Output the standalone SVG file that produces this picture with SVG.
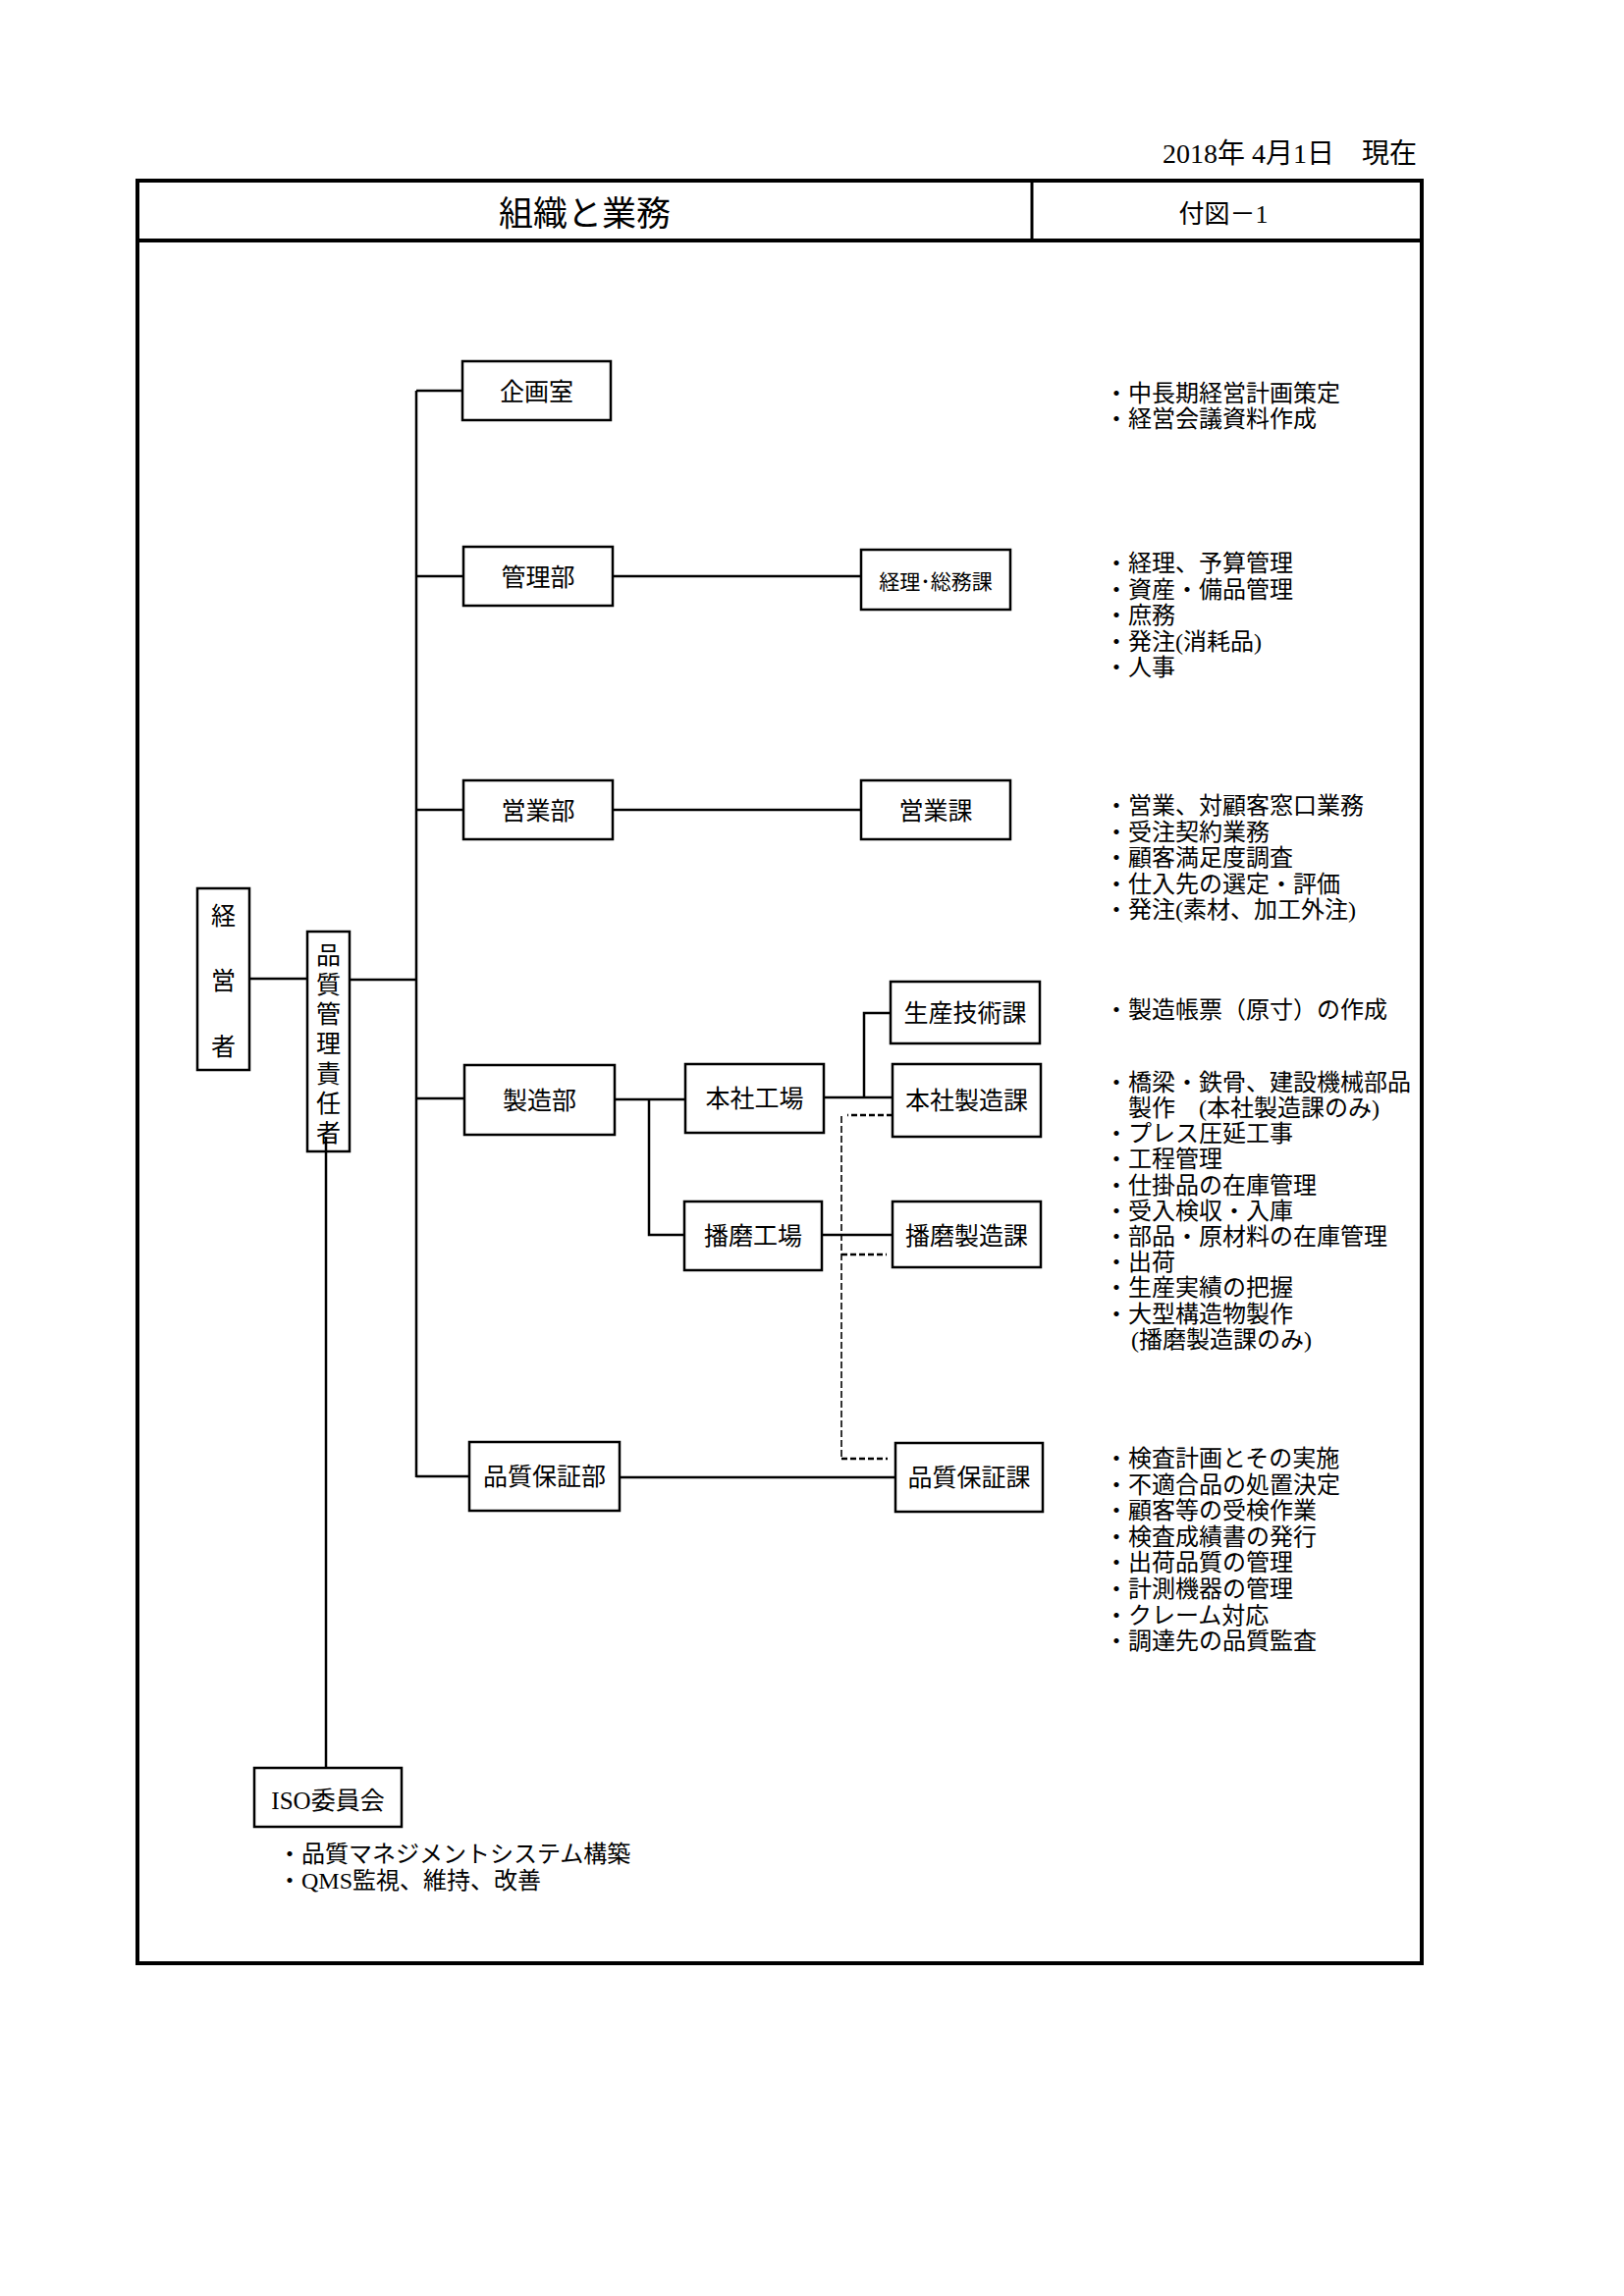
<svg xmlns="http://www.w3.org/2000/svg" width="1654" height="2339" viewBox="0 0 1654 2339">
<style>
text { font-family: "Liberation Serif", "Noto Sans CJK JP", serif; fill: #000; }
.box { fill: #fff; stroke: #000; stroke-width: 2.5; }
.ln { fill: none; stroke: #000; stroke-width: 2.5; }
.dash { fill: none; stroke: #000; stroke-width: 2.5; stroke-dasharray: 6 3; }
.dashv { fill: none; stroke: #000; stroke-width: 1.6; stroke-dasharray: 7 3; }
.lbl { font-size: 25px; text-anchor: middle; }
.li { font-size: 24px; }
</style>
<rect width="1654" height="2339" fill="#fff"/>

<g id="header">
  <text x="1443" y="166" font-size="28" text-anchor="end">2018年 4月1日　現在</text>
  <rect x="140" y="184" width="1308" height="1816" fill="none" stroke="#000" stroke-width="4"/>
  <line x1="140" y1="245" x2="1448" y2="245" stroke="#000" stroke-width="4"/>
  <line x1="1051" y1="184" x2="1051" y2="245" stroke="#000" stroke-width="3"/>
  <text x="595.5" y="230" font-size="35" text-anchor="middle">組織と業務</text>
  <text x="1246" y="226.5" font-size="26" text-anchor="middle">付図－1</text>
</g>

<g id="connectors">
  <line class="ln" x1="254" y1="997" x2="313" y2="997"/>
  <line class="ln" x1="356" y1="998" x2="424" y2="998"/>
  <line class="ln" x1="332" y1="1158" x2="332" y2="1801"/>
  <line class="ln" x1="424" y1="398" x2="424" y2="1505"/>
  <line class="ln" x1="424" y1="398" x2="471" y2="398"/>
  <line class="ln" x1="424" y1="587" x2="472" y2="587"/>
  <line class="ln" x1="624" y1="587" x2="877" y2="587"/>
  <line class="ln" x1="424" y1="825" x2="472" y2="825"/>
  <line class="ln" x1="624" y1="825" x2="877" y2="825"/>
  <line class="ln" x1="424" y1="1119" x2="473" y2="1119"/>
  <line class="ln" x1="626" y1="1120" x2="698" y2="1120"/>
  <polyline class="ln" points="661,1120 661,1258 697,1258"/>
  <line class="ln" x1="839" y1="1118" x2="909" y2="1118"/>
  <polyline class="ln" points="880,1118 880,1032 907,1032"/>
  <line class="ln" x1="837" y1="1258" x2="909" y2="1258"/>
  <line class="ln" x1="424" y1="1504" x2="478" y2="1504"/>
  <line class="ln" x1="631" y1="1505" x2="912" y2="1505"/>
  <line class="dash" x1="909" y1="1136" x2="863" y2="1136"/>
  <line class="dashv" x1="857" y1="1137" x2="857" y2="1486"/>
  <line class="dash" x1="857" y1="1278" x2="903" y2="1278"/>
  <line class="dash" x1="857" y1="1486" x2="904" y2="1486"/>
</g>

<g id="keieisha">
  <rect class="box" x="201" y="905" width="53" height="185"/>
  <text class="lbl" x="227.5" y="941.5">経</text>
  <text class="lbl" x="227.5" y="1007.5">営</text>
  <text class="lbl" x="227.5" y="1074.5">者</text>
</g>

<g id="hinshitsu-sekininsha">
  <rect class="box" x="313" y="949" width="43" height="224"/>
  <text class="lbl" x="334.5" y="981.5">品</text>
  <text class="lbl" x="334.5" y="1011.5">質</text>
  <text class="lbl" x="334.5" y="1041.5">管</text>
  <text class="lbl" x="334.5" y="1071.5">理</text>
  <text class="lbl" x="334.5" y="1102.5">責</text>
  <text class="lbl" x="334.5" y="1132.5">任</text>
  <text class="lbl" x="334.5" y="1162.5">者</text>
  <line class="ln" x1="332" y1="1158" x2="332" y2="1173"/>
</g>

<g id="kikakushitsu">
  <rect class="box" x="471" y="368" width="151" height="60"/>
  <text class="lbl" x="546.5" y="407.5">企画室</text>
</g>
<g id="kanribu">
  <rect class="box" x="472" y="557" width="152" height="60"/>
  <text class="lbl" x="548" y="596.5">管理部</text>
</g>
<g id="keiri-somuka">
  <rect class="box" x="877" y="560" width="152" height="61"/>
  <text x="953" y="600" font-size="21" text-anchor="middle">経理･総務課</text>
</g>
<g id="eigyobu">
  <rect class="box" x="472" y="795" width="152" height="60"/>
  <text class="lbl" x="548" y="834.5">営業部</text>
</g>
<g id="eigyoka">
  <rect class="box" x="877" y="795" width="152" height="60"/>
  <text class="lbl" x="953" y="834.5">営業課</text>
</g>
<g id="seizobu">
  <rect class="box" x="473" y="1085" width="153" height="71"/>
  <text class="lbl" x="549.5" y="1129.5">製造部</text>
</g>
<g id="honsha-kojo">
  <rect class="box" x="698" y="1084" width="141" height="70"/>
  <text class="lbl" x="768.5" y="1127.5">本社工場</text>
</g>
<g id="harima-kojo">
  <rect class="box" x="697" y="1224" width="140" height="70"/>
  <text class="lbl" x="767" y="1267.5">播磨工場</text>
</g>
<g id="seisan-gijutsuka">
  <rect class="box" x="907" y="1000" width="152" height="63"/>
  <text class="lbl" x="983" y="1041">生産技術課</text>
</g>
<g id="honsha-seizoka">
  <rect class="box" x="909" y="1084" width="151" height="74"/>
  <text class="lbl" x="984.5" y="1129.5">本社製造課</text>
</g>
<g id="harima-seizoka">
  <rect class="box" x="909" y="1224" width="151" height="67"/>
  <text class="lbl" x="984.5" y="1267.5">播磨製造課</text>
</g>
<g id="hinshitsu-hoshobu">
  <rect class="box" x="478" y="1469" width="153" height="70"/>
  <text class="lbl" x="554.5" y="1512.5">品質保証部</text>
</g>
<g id="hinshitsu-hoshoka">
  <rect class="box" x="912" y="1470" width="150" height="70"/>
  <text class="lbl" x="987" y="1514">品質保証課</text>
</g>
<g id="iso-iinkai">
  <rect class="box" x="259" y="1801" width="150" height="60"/>
  <text class="lbl" x="334" y="1842.5">ISO委員会</text>
</g>

<g id="notes-kikaku" class="li">
  <text x="1125" y="409">・中長期経営計画策定</text>
  <text x="1125" y="435">・経営会議資料作成</text>
</g>
<g id="notes-kanri" class="li">
  <text x="1125" y="582">・経理、予算管理</text>
  <text x="1125" y="608.6">・資産・備品管理</text>
  <text x="1125" y="635.2">・庶務</text>
  <text x="1125" y="661.8">・発注(消耗品)</text>
  <text x="1125" y="688.4">・人事</text>
</g>
<g id="notes-eigyo" class="li">
  <text x="1125" y="829">・営業、対顧客窓口業務</text>
  <text x="1125" y="855.6">・受注契約業務</text>
  <text x="1125" y="882.2">・顧客満足度調査</text>
  <text x="1125" y="908.8">・仕入先の選定・評価</text>
  <text x="1125" y="935.4">・発注(素材、加工外注)</text>
</g>
<g id="notes-seisan" class="li">
  <text x="1125" y="1037">・製造帳票（原寸）の作成</text>
</g>
<g id="notes-seizo" class="li">
  <text x="1125" y="1110.7">・橋梁・鉄骨、建設機械部品</text>
  <text x="1149" y="1136.9">製作　(本社製造課のみ)</text>
  <text x="1125" y="1163.1">・プレス圧延工事</text>
  <text x="1125" y="1189.3">・工程管理</text>
  <text x="1125" y="1215.5">・仕掛品の在庫管理</text>
  <text x="1125" y="1241.7">・受入検収・入庫</text>
  <text x="1125" y="1267.9">・部品・原材料の在庫管理</text>
  <text x="1125" y="1294.1">・出荷</text>
  <text x="1125" y="1320.3">・生産実績の把握</text>
  <text x="1125" y="1346.5">・大型構造物製作</text>
  <text x="1152" y="1372.7">(播磨製造課のみ)</text>
</g>
<g id="notes-hinshitsu" class="li">
  <text x="1125" y="1494">・検査計画とその実施</text>
  <text x="1125" y="1520.6">・不適合品の処置決定</text>
  <text x="1125" y="1547.2">・顧客等の受検作業</text>
  <text x="1125" y="1573.8">・検査成績書の発行</text>
  <text x="1125" y="1600.4">・出荷品質の管理</text>
  <text x="1125" y="1627">・計測機器の管理</text>
  <text x="1125" y="1653.6">・クレーム対応</text>
  <text x="1125" y="1680.2">・調達先の品質監査</text>
</g>
<g id="notes-iso" class="li">
  <text x="283" y="1897">・品質マネジメントシステム構築</text>
  <text x="283" y="1924">・QMS監視、維持、改善</text>
</g>
</svg>
